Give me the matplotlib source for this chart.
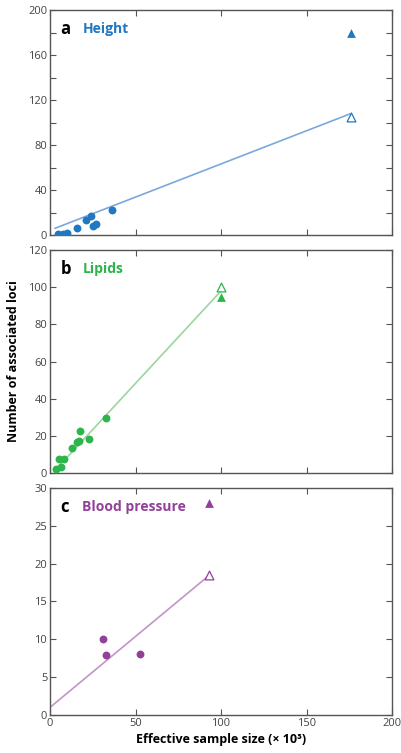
import numpy as np
import matplotlib.pyplot as plt
from matplotlib.ticker import MultipleLocator

plt.rcParams['font.family'] = ['Open Sans', 'DejaVu Sans']

# Height (panel a)
height_x = [4.9, 7.8, 9.7, 15.5, 21, 24, 25, 27, 36]
height_y = [0.5, 0.5, 1.5, 6, 13, 17, 8, 10, 22.5]
height_pred = (176, 105)
height_obs = (176, 180)
height_fit_x = [3, 176]
height_fit_y = [6, 108]

# Lipids (panel b)
lipid_x = [3.3, 6.4, 5.2, 8.3, 13, 15.9, 16.9, 17.7, 22.9, 32.8]
lipid_y = [2.1, 3, 7.5, 7.5, 13.5, 16.5, 17.5, 22.5, 18.5, 29.5]
lipid_pred = (100, 100)
lipid_obs = (100, 95)
lipid_fit_x = [5, 100]
lipid_fit_y = [3.5, 98]

# Blood pressure (panel c)
bp_x = [30.7, 32.8, 52.8]
bp_y = [10, 7.9, 8]
bp_pred = (92.8, 18.5)
bp_obs = (92.8, 28)
bp_fit_x = [0, 92.8]
bp_fit_y = [1, 18.4]

panels = [
    dict(letter='a', name='Height', color='#1f78c1', line='#7aa8dc',
         x=height_x, y=height_y, pred=height_pred, obs=height_obs,
         fx=height_fit_x, fy=height_fit_y, ymax=200, major=40, minor=20),
    dict(letter='b', name='Lipids', color='#2bb54a', line='#9ad69e',
         x=lipid_x, y=lipid_y, pred=lipid_pred, obs=lipid_obs,
         fx=lipid_fit_x, fy=lipid_fit_y, ymax=120, major=20, minor=20),
    dict(letter='c', name='Blood pressure', color='#92409a', line='#c592cc',
         x=bp_x, y=bp_y, pred=bp_pred, obs=bp_obs,
         fx=bp_fit_x, fy=bp_fit_y, ymax=30, major=5, minor=5),
]

fig = plt.figure(figsize=(4.01, 7.53), dpi=100)
boxes = [
    [0.1247, 0.6879, 0.853, 0.2988],
    [0.1247, 0.3718, 0.853, 0.2961],
    [0.1247, 0.0505, 0.853, 0.3015],
]

grey = '#555555'
for i, (p, box) in enumerate(zip(panels, boxes)):
    ax = fig.add_axes(box)
    ax.plot(p['fx'], p['fy'], color=p['line'], lw=1.2, zorder=1)
    ax.scatter(p['x'], p['y'], s=32, color=p['color'], zorder=3, linewidths=0)
    ax.scatter([p['obs'][0]], [p['obs'][1]], marker='^', s=40,
               color=p['color'], zorder=3, linewidths=0)
    ax.scatter([p['pred'][0]], [p['pred'][1]], marker='^', s=40,
               facecolor='white', edgecolor=p['color'], linewidths=0.9, zorder=3)

    ax.set_xlim(0, 200)
    ax.set_ylim(0, p['ymax'])
    ax.xaxis.set_major_locator(MultipleLocator(50))
    ax.yaxis.set_major_locator(MultipleLocator(p['major']))
    ax.yaxis.set_minor_locator(MultipleLocator(p['minor']))
    ax.tick_params(which='both', direction='in', top=True, right=True,
                   length=4, width=0.8, color=grey, labelsize=8,
                   labelcolor='#444444', pad=2)
    for s in ax.spines.values():
        s.set_color(grey)
        s.set_linewidth(1.0)
    if i < 2:
        ax.set_xticklabels([])
    else:
        ax.set_xticks([0, 50, 100, 150, 200])

    ax.text(0.03, 0.915, p['letter'], transform=ax.transAxes, fontsize=12,
            fontweight='bold', color='black', va='center', ha='left')
    ax.text(0.095, 0.915, p['name'], transform=ax.transAxes, fontsize=10,
            fontweight='bold', color=p['color'], va='center', ha='left')

    if i == 1:
        ax.set_ylabel('Number of associated loci', fontsize=9,
                      fontweight='bold', labelpad=6)
    if i == 2:
        ax.set_xlabel('Effective sample size (× 10³)', fontsize=9,
                      fontweight='bold', labelpad=3)

fig.savefig('out.png', dpi=100)
